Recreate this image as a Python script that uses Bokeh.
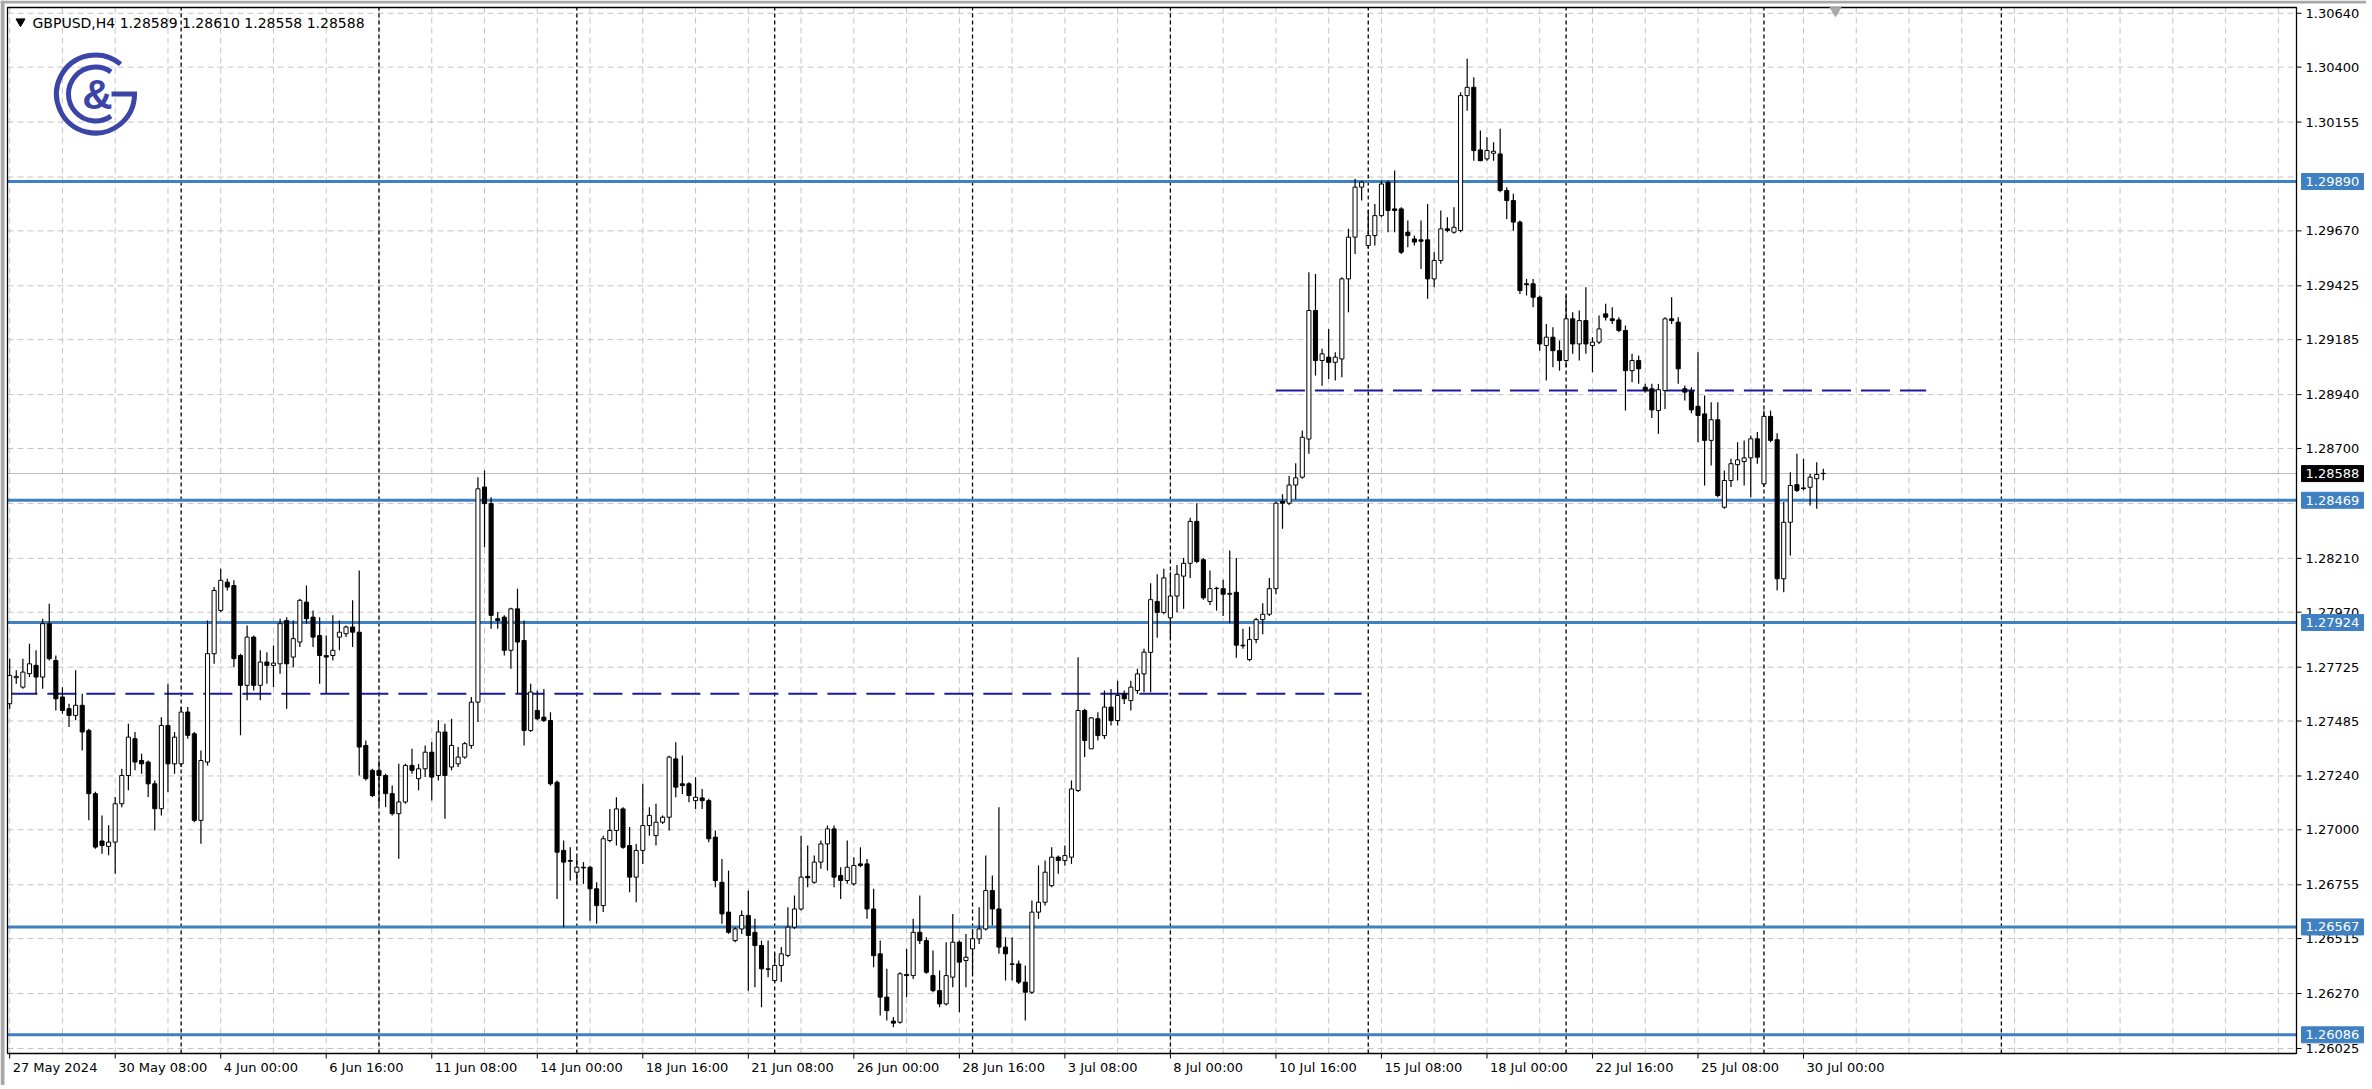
import math
from bokeh.plotting import figure
from bokeh.models import Range1d, ColumnDataSource
from bokeh.core.properties import value
from bokeh.embed import file_html
from bokeh.resources import INLINE

# ---------------- data ----------------
symbol = "GBPUSD,H4"
header_values = ["1.28589", "1.28610", "1.28558", "1.28588"]

opens = [
    1.27562, 1.27678, 1.27636, 1.27696, 1.27733, 1.27681, 1.27919, 1.27755, 1.27592, 1.27540,
    1.27510, 1.27555, 1.27443, 1.27161, 1.26950, 1.26926, 1.26945, 1.27116, 1.27242, 1.27406,
    1.27309, 1.27302, 1.27205, 1.27094, 1.27465, 1.27294, 1.27294, 1.27525, 1.27428, 1.27042,
    1.27302, 1.27785, 1.27978, 1.28104, 1.28089, 1.27777, 1.27644, 1.27859, 1.27644, 1.27748,
    1.27733, 1.27740, 1.27933, 1.27770, 1.27837, 1.28015, 1.27948, 1.27866, 1.27777, 1.27777,
    1.27859, 1.27874, 1.27904, 1.27881, 1.27376, 1.27265, 1.27265, 1.27242, 1.27161, 1.27072,
    1.27124, 1.27287, 1.27228, 1.27272, 1.27346, 1.27242, 1.27436, 1.27280, 1.27294, 1.27324,
    1.27376, 1.27569, 1.28528, 1.28454, 1.27941, 1.27948, 1.27800, 1.27985, 1.27844, 1.27443,
    1.27532, 1.27502, 1.27487, 1.27212, 1.26908, 1.26863, 1.26811, 1.26833, 1.26833, 1.26737,
    1.26662, 1.26952, 1.26997, 1.27093, 1.26930, 1.26789, 1.26908, 1.27019, 1.26974, 1.27034,
    1.27056, 1.27316, 1.27205, 1.27205, 1.27130, 1.27142, 1.27130, 1.26967, 1.26766, 1.26633,
    1.26506, 1.26558, 1.26618, 1.26543, 1.26484, 1.26380, 1.26328, 1.26395, 1.26440, 1.26566,
    1.26647, 1.26792, 1.26766, 1.26856, 1.26937, 1.27004, 1.26796, 1.26774, 1.26759, 1.26848,
    1.26848, 1.26647, 1.26447, 1.26254, 1.26147, 1.26142, 1.26355, 1.26350, 1.26543, 1.26506,
    1.26350, 1.26283, 1.26224, 1.26343, 1.26499, 1.26417, 1.26469, 1.26514, 1.26558, 1.26729,
    1.26647, 1.26477, 1.26402, 1.26402, 1.26321, 1.26276, 1.26633, 1.26677, 1.26751, 1.26878,
    1.26863, 1.26878, 1.27175, 1.27532, 1.27361, 1.27495, 1.27420, 1.27547, 1.27487, 1.27606,
    1.27576, 1.27621, 1.27695, 1.27791, 1.28018, 1.27969, 1.27945, 1.28042, 1.28131, 1.28188,
    1.28375, 1.28204, 1.28018, 1.28075, 1.28075, 1.28050, 1.28059, 1.27823, 1.27759, 1.27848,
    1.27937, 1.27961, 1.28075, 1.28464, 1.28456, 1.28537, 1.28572, 1.28742, 1.29315, 1.29092,
    1.29107, 1.29084, 1.29099, 1.29456, 1.29642, 1.29865, 1.29605, 1.29649, 1.29738, 1.29887,
    1.29768, 1.29768, 1.29664, 1.29634, 1.29630, 1.29630, 1.29456, 1.29538, 1.29679, 1.29664,
    1.29672, 1.30273, 1.30310, 1.30031, 1.29991, 1.30016, 1.30013, 1.29850, 1.29805, 1.29709,
    1.29434, 1.29434, 1.29374, 1.29159, 1.29196, 1.29136, 1.29092, 1.29278, 1.29166, 1.29270,
    1.29159, 1.29174, 1.29300, 1.29278, 1.29273, 1.29226, 1.29047, 1.29092, 1.28973, 1.28966,
    1.28869, 1.28958, 1.29278, 1.29263, 1.28966, 1.28955, 1.28888, 1.28854, 1.28736, 1.28828,
    1.28438, 1.28557, 1.28628, 1.28642, 1.28658, 1.28743, 1.28542, 1.28843, 1.28739, 1.28119,
    1.28371, 1.28539, 1.28524, 1.28527, 1.28565, 1.28589,
]
highs = [
    1.27763, 1.27711, 1.27763, 1.27829, 1.27800, 1.27941, 1.28008, 1.27777, 1.27636, 1.27562,
    1.27711, 1.27607, 1.27450, 1.27170, 1.27064, 1.27020, 1.27146, 1.27272, 1.27473, 1.27436,
    1.27339, 1.27309, 1.27220, 1.27502, 1.27651, 1.27436, 1.27547, 1.27547, 1.27436, 1.27354,
    1.27933, 1.28082, 1.28164, 1.28119, 1.28112, 1.27785, 1.27911, 1.27866, 1.27800, 1.27792,
    1.27822, 1.27941, 1.27948, 1.27933, 1.28030, 1.28089, 1.27978, 1.27948, 1.27866, 1.27956,
    1.27933, 1.27911, 1.28023, 1.28156, 1.27398, 1.27272, 1.27309, 1.27250, 1.27198, 1.27294,
    1.27294, 1.27361, 1.27294, 1.27376, 1.27391, 1.27488, 1.27473, 1.27495, 1.27369, 1.27391,
    1.27592, 1.28572, 1.28602, 1.28483, 1.27971, 1.27956, 1.27990, 1.28075, 1.27933, 1.27651,
    1.27621, 1.27628, 1.27524, 1.27220, 1.26952, 1.26922, 1.26878, 1.26856, 1.26840, 1.26766,
    1.26974, 1.27093, 1.27145, 1.27101, 1.27012, 1.26937, 1.27205, 1.27101, 1.27116, 1.27064,
    1.27330, 1.27390, 1.27331, 1.27212, 1.27234, 1.27182, 1.27138, 1.26997, 1.26870, 1.26818,
    1.26566, 1.26640, 1.26729, 1.26603, 1.26506, 1.26506, 1.26447, 1.26477, 1.26655, 1.26707,
    1.26974, 1.26930, 1.26885, 1.26952, 1.27019, 1.27019, 1.26833, 1.26952, 1.26878, 1.26922,
    1.26870, 1.26737, 1.26506, 1.26380, 1.26165, 1.26365, 1.26469, 1.26603, 1.26707, 1.26521,
    1.26462, 1.26373, 1.26499, 1.26625, 1.26506, 1.26536, 1.26558, 1.26655, 1.26885, 1.26796,
    1.27101, 1.26521, 1.26521, 1.26417, 1.26395, 1.26685, 1.26841, 1.26863, 1.26922, 1.26885,
    1.26930, 1.27220, 1.27769, 1.27540, 1.27502, 1.27524, 1.27621, 1.27628, 1.27665, 1.27621,
    1.27665, 1.27718, 1.27807, 1.28099, 1.28139, 1.28164, 1.28148, 1.28180, 1.28212, 1.28391,
    1.28456, 1.28212, 1.28156, 1.28083, 1.28115, 1.28245, 1.28212, 1.27896, 1.27905, 1.27945,
    1.28010, 1.28123, 1.28464, 1.28496, 1.28577, 1.28634, 1.28780, 1.29486, 1.29478, 1.29144,
    1.29233, 1.29129, 1.29463, 1.29679, 1.29902, 1.29894, 1.29761, 1.29790, 1.29894, 1.29894,
    1.29939, 1.29775, 1.29716, 1.29649, 1.29716, 1.29790, 1.29575, 1.29761, 1.29731, 1.29775,
    1.30288, 1.30437, 1.30355, 1.30117, 1.30087, 1.30065, 1.30125, 1.29865, 1.29835, 1.29716,
    1.29456, 1.29456, 1.29382, 1.29255, 1.29240, 1.29181, 1.29382, 1.29307, 1.29315, 1.29419,
    1.29196, 1.29293, 1.29345, 1.29330, 1.29285, 1.29248, 1.29122, 1.29114, 1.28988, 1.28988,
    1.28988, 1.29285, 1.29374, 1.29285, 1.28981, 1.28973, 1.29129, 1.28936, 1.28906, 1.28906,
    1.28602, 1.28654, 1.28728, 1.28736, 1.28758, 1.28773, 1.28869, 1.28869, 1.28768, 1.28461,
    1.28594, 1.28676, 1.28654, 1.28587, 1.28639, 1.28610,
]
lows = [
    1.27540, 1.27651, 1.27629, 1.27681, 1.27607, 1.27629, 1.27755, 1.27532, 1.27517, 1.27458,
    1.27488, 1.27354, 1.27042, 1.26915, 1.26893, 1.26886, 1.26804, 1.27101, 1.27176, 1.27265,
    1.27250, 1.27146, 1.26997, 1.27064, 1.27168, 1.27250, 1.27280, 1.27406, 1.27034, 1.26938,
    1.27287, 1.27740, 1.27971, 1.28067, 1.27725, 1.27421, 1.27577, 1.27621, 1.27577, 1.27651,
    1.27636, 1.27696, 1.27540, 1.27725, 1.27815, 1.27919, 1.27815, 1.27651, 1.27607, 1.27755,
    1.27800, 1.27859, 1.27815, 1.27242, 1.27220, 1.27146, 1.27109, 1.27101, 1.27064, 1.26871,
    1.27116, 1.27250, 1.27176, 1.27235, 1.27131, 1.27220, 1.27049, 1.27265, 1.27280, 1.27317,
    1.27361, 1.27480, 1.28260, 1.27896, 1.27896, 1.27777, 1.27718, 1.27607, 1.27376, 1.27436,
    1.27488, 1.27480, 1.27197, 1.26692, 1.26566, 1.26774, 1.26759, 1.26759, 1.26595, 1.26581,
    1.26633, 1.26945, 1.26930, 1.26915, 1.26722, 1.26677, 1.26848, 1.26974, 1.26930, 1.27026,
    1.26997, 1.27145, 1.27160, 1.27123, 1.27093, 1.27093, 1.26945, 1.26744, 1.26581, 1.26536,
    1.26499, 1.26536, 1.26283, 1.26298, 1.26209, 1.26343, 1.26321, 1.26321, 1.26432, 1.26558,
    1.26640, 1.26744, 1.26759, 1.26826, 1.26818, 1.26744, 1.26692, 1.26759, 1.26751, 1.26833,
    1.26603, 1.26387, 1.26172, 1.26150, 1.26120, 1.26135, 1.26254, 1.26335, 1.26491, 1.26358,
    1.26276, 1.26209, 1.26217, 1.26298, 1.26187, 1.26298, 1.26358, 1.26491, 1.26551, 1.26573,
    1.26447, 1.26328, 1.26328, 1.26313, 1.26150, 1.26268, 1.26603, 1.26662, 1.26744, 1.26804,
    1.26840, 1.26848, 1.27168, 1.27324, 1.27361, 1.27398, 1.27405, 1.27465, 1.27465, 1.27561,
    1.27532, 1.27606, 1.27613, 1.27613, 1.27856, 1.27961, 1.27856, 1.27969, 1.27985, 1.28123,
    1.28188, 1.28026, 1.28002, 1.27977, 1.27953, 1.27921, 1.27767, 1.27807, 1.27751, 1.27832,
    1.27872, 1.27953, 1.28050, 1.28342, 1.28448, 1.28472, 1.28565, 1.28676, 1.29025, 1.28980,
    1.29010, 1.29003, 1.29018, 1.29307, 1.29567, 1.29805, 1.29590, 1.29605, 1.29731, 1.29664,
    1.29664, 1.29567, 1.29597, 1.29605, 1.29500, 1.29367, 1.29419, 1.29523, 1.29664, 1.29657,
    1.29664, 1.30206, 1.29983, 1.29980, 1.29983, 1.29983, 1.29842, 1.29723, 1.29671, 1.29389,
    1.29382, 1.29330, 1.29136, 1.29003, 1.29062, 1.29047, 1.29062, 1.29122, 1.29092, 1.29122,
    1.29040, 1.29166, 1.29270, 1.29255, 1.29218, 1.28869, 1.28995, 1.28988, 1.28950, 1.28836,
    1.28765, 1.28876, 1.29255, 1.28988, 1.28914, 1.28857, 1.28728, 1.28535, 1.28624, 1.28483,
    1.28431, 1.28528, 1.28557, 1.28535, 1.28483, 1.28632, 1.28528, 1.28728, 1.28067, 1.28059,
    1.28223, 1.28506, 1.28513, 1.28446, 1.28431, 1.28558,
]
closes = [
    1.27688, 1.27684, 1.27703, 1.27740, 1.27681, 1.27919, 1.27763, 1.27584, 1.27532, 1.27510,
    1.27555, 1.27436, 1.27161, 1.26923, 1.26930, 1.26945, 1.27116, 1.27242, 1.27413, 1.27302,
    1.27294, 1.27205, 1.27094, 1.27465, 1.27294, 1.27413, 1.27525, 1.27421, 1.27042, 1.27309,
    1.27785, 1.28067, 1.28112, 1.28082, 1.27763, 1.27644, 1.27859, 1.27644, 1.27748, 1.27733,
    1.27743, 1.27919, 1.27740, 1.27852, 1.28023, 1.27941, 1.27859, 1.27777, 1.27770, 1.27800,
    1.27881, 1.27904, 1.27881, 1.27369, 1.27228, 1.27153, 1.27242, 1.27161, 1.27072, 1.27124,
    1.27287, 1.27265, 1.27272, 1.27346, 1.27235, 1.27436, 1.27242, 1.27376, 1.27324, 1.27384,
    1.27569, 1.28520, 1.28454, 1.27956, 1.27933, 1.27800, 1.27985, 1.27837, 1.27443, 1.27614,
    1.27495, 1.27487, 1.27205, 1.26900, 1.26856, 1.26860, 1.26833, 1.26830, 1.26737, 1.26662,
    1.26960, 1.26997, 1.27093, 1.26922, 1.26789, 1.26908, 1.27019, 1.27064, 1.27034, 1.27056,
    1.27324, 1.27190, 1.27197, 1.27153, 1.27145, 1.27130, 1.26960, 1.26774, 1.26625, 1.26543,
    1.26558, 1.26618, 1.26529, 1.26484, 1.26380, 1.26378, 1.26395, 1.26447, 1.26566, 1.26647,
    1.26789, 1.26786, 1.26856, 1.26937, 1.27004, 1.26789, 1.26774, 1.26833, 1.26841, 1.26841,
    1.26647, 1.26439, 1.26254, 1.26194, 1.26138, 1.26358, 1.26350, 1.26543, 1.26506, 1.26365,
    1.26283, 1.26224, 1.26350, 1.26499, 1.26410, 1.26432, 1.26514, 1.26558, 1.26729, 1.26647,
    1.26477, 1.26447, 1.26400, 1.26321, 1.26276, 1.26633, 1.26677, 1.26811, 1.26878, 1.26863,
    1.26885, 1.27182, 1.27532, 1.27398, 1.27499, 1.27420, 1.27547, 1.27487, 1.27599, 1.27584,
    1.27636, 1.27695, 1.27792, 1.28026, 1.27969, 1.28123, 1.28042, 1.28139, 1.28188, 1.28375,
    1.28196, 1.28034, 1.28075, 1.28077, 1.28050, 1.28054, 1.27823, 1.27820, 1.27848, 1.27937,
    1.27961, 1.28075, 1.28456, 1.28456, 1.28537, 1.28569, 1.28750, 1.29315, 1.29092, 1.29122,
    1.29084, 1.29107, 1.29456, 1.29642, 1.29865, 1.29887, 1.29649, 1.29738, 1.29879, 1.29761,
    1.29761, 1.29575, 1.29649, 1.29620, 1.29624, 1.29456, 1.29538, 1.29679, 1.29672, 1.29686,
    1.30273, 1.30310, 1.30028, 1.29983, 1.30028, 1.30025, 1.29850, 1.29805, 1.29709, 1.29404,
    1.29430, 1.29374, 1.29166, 1.29196, 1.29136, 1.29092, 1.29278, 1.29166, 1.29270, 1.29166,
    1.29174, 1.29233, 1.29285, 1.29270, 1.29226, 1.29047, 1.29092, 1.29055, 1.28958, 1.28872,
    1.28962, 1.29278, 1.29270, 1.29055, 1.28951, 1.28872, 1.28847, 1.28736, 1.28828, 1.28490,
    1.28557, 1.28632, 1.28649, 1.28658, 1.28743, 1.28661, 1.28843, 1.28736, 1.28119, 1.28371,
    1.28535, 1.28513, 1.28521, 1.28572, 1.28584, 1.28588,
]

date_tick_index = [0, 16, 32, 48, 64, 80, 96, 112, 128, 144, 160, 176, 192, 208, 224, 240, 256, 272]
date_tick_labels = ["27 May 2024", "30 May 08:00", "4 Jun 00:00", "6 Jun 16:00", "11 Jun 08:00",
                    "14 Jun 00:00", "18 Jun 16:00", "21 Jun 08:00", "26 Jun 00:00", "28 Jun 16:00",
                    "3 Jul 08:00", "8 Jul 00:00", "10 Jul 16:00", "15 Jul 08:00", "18 Jul 00:00",
                    "22 Jul 16:00", "25 Jul 08:00", "30 Jul 00:00"]
grid_price_ticks = [1.30640, 1.30400, 1.30155, 1.29910, 1.29670, 1.29425, 1.29185, 1.28940,
                    1.28700, 1.28455, 1.28210, 1.27970, 1.27725, 1.27485, 1.27240, 1.27000,
                    1.26755, 1.26515, 1.26270, 1.26025]
label_price_ticks = [1.30640, 1.30400, 1.30155, 1.29670, 1.29425, 1.29185, 1.28940, 1.28700,
                     1.28210, 1.27970, 1.27725, 1.27485, 1.27240, 1.27000, 1.26755, 1.26515,
                     1.26270, 1.26025]
levels = [1.29890, 1.28469, 1.27924, 1.26567, 1.26086]
dashed_levels = [1.27606, 1.28958]
dashed_from = [-0.2, 192]
dashed_to = [205, 290.6]
week_separators = [26, 56, 86, 116, 146, 176, 206, 236, 266, 302]
grid_bar_step = 8
current_price = 1.28588

# ---------------- geometry (pixels of the page) ----------------
W, H = 2366, 1085                 # whole canvas
CH_L, CH_R, CH_T, CH_B = 7, 2296, 7, 1053   # chart area
BAR_PX = 6.595                     # pixels per bar
I0 = -0.33                         # bar index at chart left edge
PX = 0.00004458                    # price per pixel
P_TOP = 1.30697                    # price at page y = 0


def px_x(px):
    return I0 + (px - CH_L) / BAR_PX


def px_y(py):
    return P_TOP - py * PX


XL, XR = px_x(CH_L), px_x(CH_R)
YT, YB = px_y(CH_T), px_y(CH_B)

FONT = value("DejaVu Sans")
LEVEL_BLUE = "#3F80C0"
NAVY = "#1A1AA0"
LOGO = "#3B45A8"
GRID = "#C4C4C4"

p = figure(frame_width=W, frame_height=H,
           x_range=Range1d(px_x(0), px_x(W)), y_range=Range1d(px_y(H), px_y(0)),
           output_backend="svg", toolbar_location=None,
           x_axis_type=None, y_axis_type=None,
           min_border_left=0, min_border_right=0, min_border_top=0, min_border_bottom=0,
           background_fill_color="white", border_fill_color="white", outline_line_color=None)

# ---- window edge (top and left) ----
p.quad(left=[px_x(0)], right=[px_x(W)], top=[px_y(0)], bottom=[px_y(3)],
       fill_color="#A8A8A8", line_color=None)
p.quad(left=[px_x(0)], right=[px_x(4)], top=[px_y(0)], bottom=[px_y(H)],
       fill_color="#A8A8A8", line_color=None)

# ---- grid (dashed) ----
vg = [i for i in range(0, int(XR) + 1, grid_bar_step)]
p.segment(x0=vg, y0=[YB] * len(vg), x1=vg, y1=[YT] * len(vg),
          line_color=GRID, line_dash="6 4", line_width=1)
p.segment(x0=[XL] * len(grid_price_ticks), y0=grid_price_ticks,
          x1=[XR] * len(grid_price_ticks), y1=grid_price_ticks,
          line_color=GRID, line_dash="6 4", line_width=1)

# ---- weekly separators ----
p.segment(x0=week_separators, y0=[YB] * len(week_separators),
          x1=week_separators, y1=[YT] * len(week_separators),
          line_color="black", line_dash="4 3", line_width=1.3)

# ---- current price line and levels ----
p.segment(x0=[XL], y0=[current_price], x1=[XR], y1=[current_price],
          line_color="#B8B8B8", line_width=1)
p.segment(x0=[XL] * len(levels), y0=levels, x1=[XR] * len(levels), y1=levels,
          line_color=LEVEL_BLUE, line_width=3)
p.segment(x0=dashed_from, y0=dashed_levels, x1=dashed_to, y1=dashed_levels,
          line_color=NAVY, line_width=2, line_dash="29 10")

# ---- candles ----
idx = list(range(len(opens)))
src = ColumnDataSource(dict(
    x=idx,
    lo=[min(l, o, c) for l, o, c in zip(lows, opens, closes)],
    hi=[max(h, o, c) for h, o, c in zip(highs, opens, closes)],
    top=[max(o, c) for o, c in zip(opens, closes)],
    bot=[min(o, c) for o, c in zip(opens, closes)],
    fill=["white" if c > o else "black" for o, c in zip(opens, closes)],
))
p.segment(x0="x", y0="lo", x1="x", y1="hi", source=src, line_color="black", line_width=1.2)
p.vbar(x="x", width=0.62, top="top", bottom="bot", source=src,
       fill_color="fill", line_color="black", line_width=1)

# ---- chart border ----
p.quad(left=[XL], right=[XR], top=[YT], bottom=[YB], fill_color=None,
       line_color="black", line_width=1.3)

# ---- right price scale ----
p.segment(x0=[XR] * len(label_price_ticks), y0=label_price_ticks,
          x1=[px_x(CH_R + 5)] * len(label_price_ticks), y1=label_price_ticks,
          line_color="black", line_width=1)
p.text(x=[px_x(CH_R + 9)] * len(label_price_ticks), y=label_price_ticks,
       text=[f"{t:.5f}" for t in label_price_ticks], text_font=FONT,
       text_font_size=value("13px"), text_color="black",
       text_align="left", text_baseline="middle")

box_l, box_r = px_x(CH_R + 5), px_x(CH_R + 67)
p.quad(left=[box_l] * len(levels), right=[box_r] * len(levels),
       top=[lv + 8 * PX for lv in levels], bottom=[lv - 8 * PX for lv in levels],
       fill_color=LEVEL_BLUE, line_color=LEVEL_BLUE)
p.quad(left=[box_l], right=[box_r], top=[current_price + 8 * PX],
       bottom=[current_price - 8 * PX], fill_color="black", line_color="black")
box_prices = levels + [current_price]
p.text(x=[px_x(CH_R + 9)] * len(box_prices), y=box_prices,
       text=[f"{v:.5f}" for v in box_prices], text_font=FONT,
       text_font_size=value("13px"), text_color="white",
       text_align="left", text_baseline="middle")

# ---- time scale ----
p.segment(x0=date_tick_index, y0=[YB] * len(date_tick_index),
          x1=date_tick_index, y1=[px_y(CH_B + 5)] * len(date_tick_index),
          line_color="black", line_width=1)
p.text(x=[i + 0.45 for i in date_tick_index], y=[px_y(CH_B + 14)] * len(date_tick_index),
       text=date_tick_labels, text_font=FONT, text_font_size=value("13px"),
       text_color="black", text_align="left", text_baseline="middle")

# ---- header ----
p.scatter(x=[px_x(20)], y=[px_y(21)], marker="inverted_triangle", size=9,
          fill_color="black", line_color="black")
p.text(x=[px_x(32)], y=[px_y(22)], text=[symbol + "  " + " ".join(header_values)],
       text_font=FONT, text_font_size=value("14px"), text_color="black",
       text_align="left", text_baseline="middle")

# ---- chart shift marker ----
p.scatter(x=[px_x(1835)], y=[px_y(10)], marker="inverted_triangle", size=11,
          fill_color="#A8A8A8", line_color="#A8A8A8")

# ---- logo ----
cx, cy = px_x(95), px_y(93.5)
p.arc(x=[cx], y=[cy], radius=39, radius_units="screen", start_angle=math.radians(50),
      end_angle=math.radians(360), direction="anticlock", line_color=LOGO, line_width=5)
p.arc(x=[cx], y=[cy], radius=27, radius_units="screen", start_angle=math.radians(55),
      end_angle=math.radians(305), direction="anticlock", line_color=LOGO, line_width=5)
p.segment(x0=[px_x(111)], y0=[cy], x1=[px_x(136.5)], y1=[cy], line_color=LOGO, line_width=5)
p.text(x=[px_x(97)], y=[cy], text=["&"], text_font=value("Liberation Sans"),
       text_font_style="bold", text_font_size=value("42px"), text_color=LOGO,
       text_align="center", text_baseline="middle")

open("out.html", "w").write(file_html(p, INLINE))
